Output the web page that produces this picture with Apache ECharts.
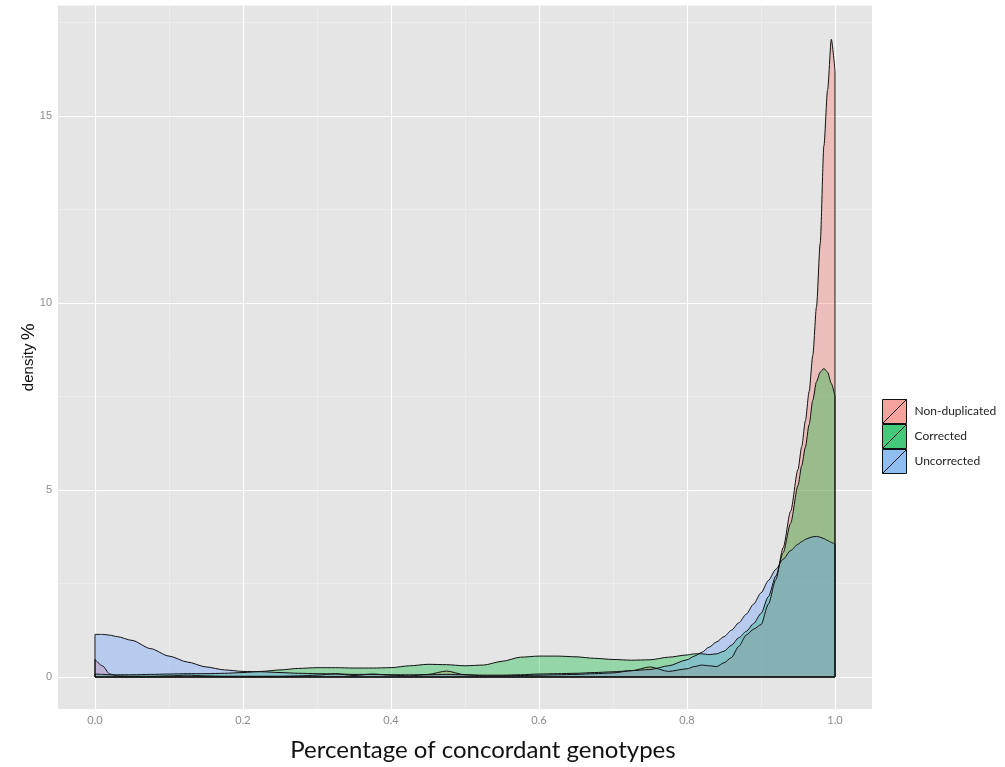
<!DOCTYPE html>
<html>
<head>
<meta charset="utf-8">
<script src="https://cdn.jsdelivr.net/npm/echarts@6/dist/echarts.min.js"></script>
<style>
  html, body { margin: 0; padding: 0; background: #ffffff; }
  #chart { width: 1005px; height: 767px; }
</style>
</head>
<body>
<div id="chart"></div>
<script>
// Evaluation points of the density curves (share of concordant genotypes)
const xs = [0, 0.01, 0.02, 0.03, 0.05, 0.075, 0.1, 0.125, 0.15, 0.175, 0.2, 0.225, 0.25, 0.275, 0.3, 0.325, 0.35, 0.375, 0.4, 0.425,
  0.45, 0.475, 0.5, 0.525, 0.55, 0.575, 0.6, 0.625, 0.65, 0.675, 0.7, 0.725, 0.75, 0.775, 0.8, 0.81, 0.82, 0.83, 0.84, 0.85,
  0.86, 0.87, 0.88, 0.89, 0.9, 0.91, 0.92, 0.93, 0.94, 0.95, 0.955, 0.96, 0.965, 0.97, 0.975, 0.98, 0.985, 0.99, 0.995, 1.0];

// Density (%) for each sample group
const nonDuplicated = [0.47, 0.30, 0.08, 0.03, 0.02, 0.02, 0.03, 0.05, 0.03, 0.02, 0.02, 0.02, 0.02, 0.03, 0.05, 0.09, 0.04, 0.08, 0.05, 0.03,
  0.07, 0.16, 0.06, 0.03, 0.03, 0.04, 0.05, 0.06, 0.07, 0.09, 0.11, 0.17, 0.27, 0.15, 0.22, 0.28, 0.32, 0.30, 0.28, 0.38,
  0.52, 0.82, 1.12, 1.28, 1.40, 1.95, 2.60, 3.46, 4.43, 5.55, 6.16, 6.85, 7.63, 8.60, 9.90, 11.6, 14.2, 15.7, 17.05, 16.2];
const corrected = [0.08, 0.07, 0.06, 0.06, 0.06, 0.07, 0.08, 0.09, 0.09, 0.10, 0.12, 0.15, 0.19, 0.23, 0.25, 0.25, 0.24, 0.24, 0.25, 0.30,
  0.34, 0.33, 0.30, 0.32, 0.42, 0.53, 0.56, 0.56, 0.54, 0.50, 0.47, 0.45, 0.46, 0.53, 0.59, 0.62, 0.62, 0.60, 0.62, 0.69,
  0.85, 1.05, 1.22, 1.43, 1.70, 2.15, 2.70, 3.33, 4.11, 5.12, 5.65, 6.15, 6.75, 7.40, 7.90, 8.15, 8.25, 8.15, 7.85, 7.50];
const uncorrected = [1.14, 1.14, 1.12, 1.08, 0.98, 0.76, 0.56, 0.40, 0.27, 0.19, 0.15, 0.14, 0.12, 0.10, 0.09, 0.08, 0.07, 0.07, 0.06, 0.06,
  0.06, 0.07, 0.06, 0.05, 0.05, 0.06, 0.08, 0.09, 0.10, 0.12, 0.14, 0.17, 0.20, 0.30, 0.46, 0.56, 0.66, 0.80, 0.94, 1.08,
  1.25, 1.45, 1.68, 1.95, 2.25, 2.58, 2.88, 3.15, 3.38, 3.55, 3.62, 3.68, 3.72, 3.75, 3.76, 3.74, 3.70, 3.65, 3.60, 3.55];

const groupNames = ['Non-duplicated', 'Corrected', 'Uncorrected'];
const groupValues = [nonDuplicated, corrected, uncorrected];
const groupColors = ['#F8766D', '#00BA38', '#619CFF'];
const legendColors = ['#F8A29E', '#45C97B', '#8FBEF0'];

// Axis breaks
const xTicks = [0, 0.2, 0.4, 0.6, 0.8, 1.0];
const xMinor = [0.1, 0.3, 0.5, 0.7, 0.9];
const yTicks = [0, 5, 10, 15];
const yMinor = [2.5, 7.5, 12.5, 17.5];

const chart = echarts.init(document.getElementById('chart'), null, { renderer: 'canvas' });

// Panel grid lines, kept underneath the filled curves
function gridLines(name, xVals, yVals, color, width) {
  return {
    name: name,
    type: 'line',
    data: [],
    z: 1,
    silent: true,
    markLine: {
      z: 1,
      silent: true,
      animation: false,
      symbol: ['none', 'none'],
      label: { show: false },
      emphasis: { disabled: true },
      lineStyle: { color: color, width: width, type: 'solid' },
      data: xVals.map(v => ({ xAxis: v })).concat(yVals.map(v => ({ yAxis: v })))
    }
  };
}

const series = [
  gridLines('minor', xMinor, yMinor, '#F2F2F2', 0.6),
  gridLines('major', xTicks, yTicks, '#FFFFFF', 1.1)
];

// Filled density curves, drawn in group order
groupNames.forEach((name, i) => {
  series.push({
    name: name,
    type: 'line',
    z: 3,
    data: xs.map((x, k) => [x, groupValues[i][k]]),
    smooth: 0.25,
    smoothMonotone: 'x',
    showSymbol: false,
    symbol: 'none',
    color: groupColors[i],
    lineStyle: { color: '#111111', width: 1 },
    areaStyle: { color: groupColors[i], opacity: 0.35 }
  });
});

// Closing edges of each density polygon (right side, baseline, left side)
groupNames.forEach((name, i) => {
  const vals = groupValues[i];
  series.push({
    name: name + ' edge',
    type: 'line',
    z: 4,
    silent: true,
    data: [[xs[xs.length - 1], vals[vals.length - 1]], [xs[xs.length - 1], 0], [xs[0], 0], [xs[0], vals[0]]],
    showSymbol: false,
    symbol: 'none',
    lineStyle: { color: '#111111', width: 1 }
  });
});

const tickColor = '#8C8C8C';

chart.setOption({
  animation: false,
  backgroundColor: '#ffffff',
  grid: {
    left: 58, right: 133, top: 5.5, bottom: 58,
    show: true, backgroundColor: '#E5E5E5', borderWidth: 0
  },
  legend: {
    orient: 'vertical',
    left: 877,
    top: 394,
    itemWidth: 24,
    itemHeight: 24,
    itemGap: 0,
    icon: 'path://M0,0L24,0L24,24L0,24Z M0,24L24,0',
    textStyle: { fontFamily: 'Lato', fontSize: 12, color: '#222222', padding: [0, 0, 0, 3] },
    data: groupNames.map((name, i) => ({
      name: name,
      itemStyle: { color: legendColors[i], borderColor: '#111111', borderWidth: 1 }
    }))
  },
  xAxis: {
    type: 'value',
    min: -0.05,
    max: 1.05,
    name: 'Percentage of concordant genotypes',
    nameLocation: 'middle',
    nameGap: 29,
    nameMoveOverlap: false,
    nameTextStyle: { fontFamily: 'Lato', fontSize: 24, color: '#111111', padding: [0, 0, 0, 36] },
    axisLine: { show: false },
    axisTick: { show: true, length: 4, lineStyle: { color: tickColor }, customValues: xTicks },
    axisLabel: {
      customValues: xTicks,
      color: tickColor, fontFamily: 'Lato', fontSize: 11, margin: 6,
      formatter: v => v.toFixed(1)
    },
    splitLine: { show: false }
  },
  yAxis: {
    type: 'value',
    min: -0.855,
    max: 17.955,
    name: '{a|density} {b|%}',
    nameLocation: 'middle',
    nameGap: 20,
    nameMoveOverlap: false,
    nameRotate: 90,
    nameTextStyle: {
      rich: {
        a: { fontFamily: 'Liberation Sans', fontSize: 15, color: '#111111' },
        b: { fontFamily: 'Liberation Sans', fontSize: 19, color: '#111111' }
      }
    },
    axisLine: { show: false },
    axisTick: { show: true, length: 4, lineStyle: { color: tickColor }, customValues: yTicks },
    axisLabel: {
      customValues: yTicks,
      color: tickColor, fontFamily: 'Liberation Sans', fontSize: 11, margin: 6,
      formatter: v => String(v)
    },
    splitLine: { show: false }
  },
  series: series
});
</script>
</body>
</html>
